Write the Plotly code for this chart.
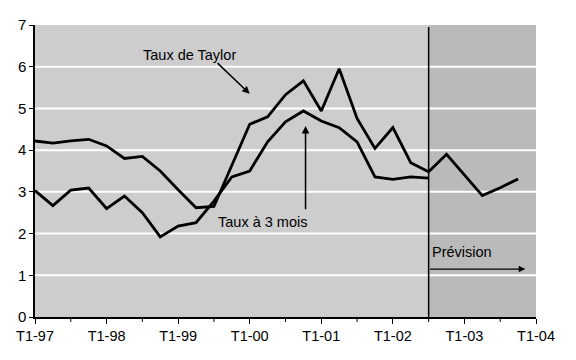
import plotly.graph_objects as go

# Quarterly dates as decimal years (T1-97 = 1997.0)
quarters_taylor = [1997 + 0.25 * i for i in range(28)]          # T1-97 .. T4-03
taux_taylor = [4.22, 4.17, 4.22, 4.26, 4.10, 3.80, 3.85, 3.50,
               3.05, 2.62, 2.65, 3.63, 4.62, 4.80, 5.33, 5.66,
               4.94, 5.95, 4.76, 4.04, 4.54, 3.70, 3.48, 3.90,
               3.40, 2.91, 3.10, 3.31]
quarters_3m = [1997 + 0.25 * i for i in range(23)]               # T1-97 .. T3-02
taux_3_mois = [3.03, 2.67, 3.04, 3.09, 2.60, 2.90, 2.50, 1.92,
               2.18, 2.26, 2.78, 3.36, 3.50, 4.20, 4.68, 4.94,
               4.70, 4.54, 4.20, 3.36, 3.30, 3.36, 3.33]

tick_vals = [1997, 1998, 1999, 2000, 2001, 2002, 2003, 2004]
tick_text = ["T1-97", "T1-98", "T1-99", "T1-00", "T1-01", "T1-02", "T1-03", "T1-04"]
minor_ticks = [1997.5 + i for i in range(7)]
forecast_start = 2002.5

FONT = "Liberation Sans, Arial, sans-serif"

fig = go.Figure()
fig.add_trace(go.Scatter(x=quarters_taylor, y=taux_taylor, mode="lines",
                         line=dict(color="black", width=2.8), showlegend=False))
fig.add_trace(go.Scatter(x=quarters_3m, y=taux_3_mois, mode="lines",
                         line=dict(color="black", width=2.8), showlegend=False))

shapes = [
    dict(type="rect", xref="x", yref="y", x0=forecast_start, x1=2004, y0=0, y1=7,
         fillcolor="#bababa", line=dict(width=0), layer="below"),
]
for yv in range(1, 7):
    shapes.append(dict(type="line", xref="x", yref="y", x0=1997, x1=2004, y0=yv, y1=yv,
                       line=dict(color="white", width=2), layer="below"))
shapes.append(dict(type="line", xref="x", yref="y", x0=forecast_start, x1=forecast_start,
                   y0=0, y1=6.95, line=dict(color="black", width=1.5)))
for xv in minor_ticks:
    shapes.append(dict(type="line", xref="x", yref="paper", x0=xv, x1=xv, y0=0, y1=-0.017,
                       line=dict(color="black", width=1)))
fig.update_layout(shapes=shapes)

annotations = [
    dict(x=1999.16, y=6.28, xref="x", yref="y", text="Taux de Taylor", showarrow=False,
         font=dict(family=FONT, size=14.5, color="black")),
    dict(x=2000.0, y=5.35, ax=1999.53, ay=6.12, xref="x", yref="y", axref="x", ayref="y",
         text="", showarrow=True, arrowhead=2, arrowsize=1, arrowwidth=1.5, arrowcolor="black"),
    dict(x=2000.18, y=2.28, xref="x", yref="y", text="Taux à 3 mois", showarrow=False,
         font=dict(family=FONT, size=14.5, color="black")),
    dict(x=2000.78, y=4.58, ax=2000.78, ay=2.55, xref="x", yref="y", axref="x", ayref="y",
         text="", showarrow=True, arrowhead=2, arrowsize=1, arrowwidth=1.5, arrowcolor="black"),
    dict(x=2002.97, y=1.57, xref="x", yref="y", text="Prévision", showarrow=False,
         font=dict(family=FONT, size=14.5, color="black")),
    dict(x=2003.85, y=1.15, ax=2002.5, ay=1.15, xref="x", yref="y", axref="x", ayref="y",
         text="", showarrow=True, arrowhead=2, arrowsize=1, arrowwidth=1.3, arrowcolor="black"),
]
fig.update_layout(annotations=annotations)

# The page body has an 8px default margin, so the figure is offset by 8px.
fig.update_layout(
    width=568, height=352,
    margin=dict(l=27, r=40, t=17, b=43, autoexpand=False),
    paper_bgcolor="white",
    plot_bgcolor="#cdcdcd",
    font=dict(family=FONT, size=14, color="black"),
    xaxis=dict(range=[1997, 2004], tickvals=tick_vals, ticktext=tick_text, automargin=False,
               showgrid=False, zeroline=False, showline=True, linecolor="black", linewidth=1.5,
               ticks="outside", ticklen=5, tickcolor="black", tickfont=dict(size=14.5)),
    yaxis=dict(range=[0, 7], tickvals=list(range(8)), showgrid=False, zeroline=False,
               automargin=False,
               showline=True, linecolor="black", linewidth=1.5,
               ticks="outside", ticklen=4, tickcolor="black", tickfont=dict(size=15)),
)

fig.write_html("out.html")
